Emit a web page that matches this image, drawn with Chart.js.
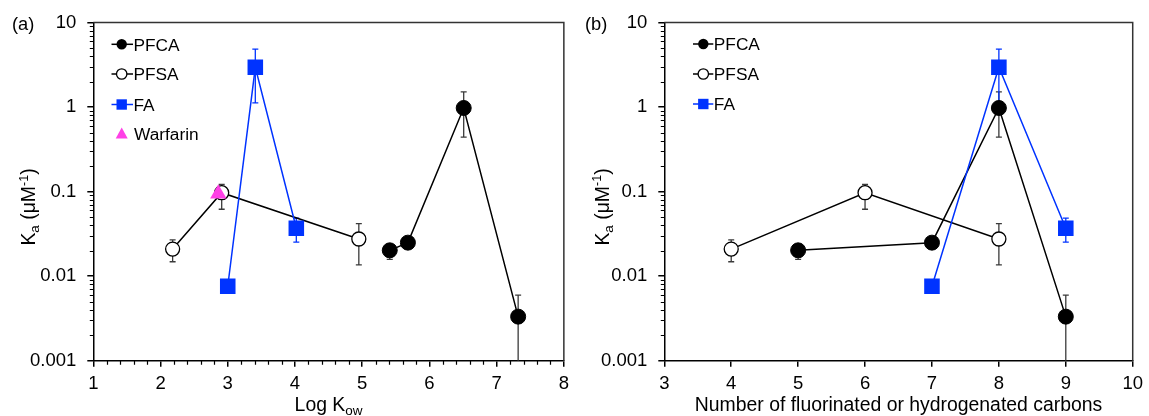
<!DOCTYPE html>
<html><head><meta charset="utf-8">
<script src="https://cdn.jsdelivr.net/npm/chart.js@4.4.1/dist/chart.umd.min.js"></script>
<style>
html,body{margin:0;padding:0;background:#fff;}
#wrap{position:relative;width:1149px;height:416px;overflow:hidden;}
canvas{position:absolute;top:0;}
</style></head><body>
<div id="wrap"><canvas id="ca" width="575" height="416" style="left:0"></canvas><canvas id="cb" width="574" height="416" style="left:575px"></canvas></div>
<script>
// ---------- data ----------
const seriesNames = ['PFCA', 'PFSA', 'FA', 'Warfarin'];
const kowPFCA = [5.41, 5.68, 6.51, 7.32];
const kowPFSA = [2.18, 2.91, 4.95];
const kowFA = [3.00, 3.41, 4.02];
const kowWarfarin = [2.86];
const carbPFCA = [5, 7, 8, 9];
const carbPFSA = [4, 6, 8];
const carbFA = [7, 8, 9];
const kaPFCA = [0.0202, 0.0249, 0.975, 0.00332];
const kaPFCALow = [0.0158, 0.0228, 0.442, 0.001];
const kaPFCAHigh = [0.0232, 0.0272, 1.51, 0.00598];
const kaPFSA = [0.0209, 0.097, 0.0275];
const kaPFSALow = [0.0148, 0.0618, 0.0136];
const kaPFSAHigh = [0.0268, 0.122, 0.0418];
const kaFA = [0.0076, 2.95, 0.0368];
const kaFALow = [0.0070, 1.12, 0.0252];
const kaFAHigh = [0.0083, 4.85, 0.0485];
const kaWarfarin = [0.094];
const kaWarfarinLow = [0.086];
const kaWarfarinHigh = [0.104];
const yTickValues = [0.001, 0.01, 0.1, 1, 10];
const yTickLabels = ['0.001', '0.01', '0.1', '1', '10'];
const xTicksA = [1, 2, 3, 4, 5, 6, 7, 8];
const xTicksB = [3, 4, 5, 6, 7, 8, 9, 10];

// ---------- style ----------
const FONT = "'Liberation Sans', Arial, Helvetica, sans-serif";
Chart.defaults.font.family = FONT;
Chart.defaults.font.size = 18.5;
Chart.defaults.color = '#000';
const BLUE = '#0033FF', PINK = '#FF40E6', ERR = '#3a3a3a';
const TITLE = 19.4, SUB = 13.5, LEG = 17.3, PANEL = 18.3;

function pts(xs, ys) { return xs.map((x, i) => ({ x: x, y: ys[i] })); }

function marker(ctx, kind, x, y, r, color) {
  ctx.beginPath();
  if (kind === 'fcircle' || kind === 'ocircle') ctx.arc(x, y, r, 0, 2 * Math.PI);
  else if (kind === 'square') ctx.rect(x - r, y - r, 2 * r, 2 * r);
  else if (kind === 'triangle') { ctx.moveTo(x, y - r * 1.1); ctx.lineTo(x + r, y + r * 0.75); ctx.lineTo(x - r, y + r * 0.75); ctx.closePath(); }
  if (kind === 'ocircle') { ctx.fillStyle = '#fff'; ctx.fill(); ctx.lineWidth = 1.3; ctx.strokeStyle = '#000'; ctx.stroke(); }
  else { ctx.fillStyle = color; ctx.fill(); }
}

function rich(ctx, parts) {
  let w = 0;
  parts.forEach(p => { ctx.font = p.s + 'px ' + FONT; p.w = ctx.measureText(p.t).width; w += p.w; });
  return w;
}
function drawRich(ctx, parts, cx, by) {
  const w = rich(ctx, parts);
  let x = cx - w / 2;
  ctx.fillStyle = '#000'; ctx.textAlign = 'left'; ctx.textBaseline = 'alphabetic';
  parts.forEach(p => { ctx.font = p.s + 'px ' + FONT; ctx.fillText(p.t, x, by + p.dy); x += p.w; });
}

function makePanel(cfg) {
  return {
    id: 'panel',
    beforeDatasetsDraw(chart) {
      const ctx = chart.ctx, a = chart.chartArea, xs = chart.scales.x, ys = chart.scales.y;
      ctx.save();
      ctx.beginPath(); ctx.rect(a.left, a.top, a.right - a.left, a.bottom - a.top + 1); ctx.clip();
      chart.data.datasets.forEach(ds => {
        if (!ds.errLow) return;
        ctx.strokeStyle = ds.errColor; ctx.lineWidth = 1.3;
        ds.data.forEach((p, i) => {
          const px = xs.getPixelForValue(p.x);
          const yl = ys.getPixelForValue(ds.errLow[i]), yh = ys.getPixelForValue(ds.errHigh[i]);
          ctx.beginPath();
          ctx.moveTo(px, yl); ctx.lineTo(px, yh);
          ctx.moveTo(px - 3, yh); ctx.lineTo(px + 3, yh);
          if (yl < a.bottom - 1) { ctx.moveTo(px - 3, yl); ctx.lineTo(px + 3, yl); }
          ctx.stroke();
        });
      });
      ctx.restore();
    },
    afterDraw(chart) {
      const ctx = chart.ctx, a = chart.chartArea, xs = chart.scales.x, ys = chart.scales.y;
      ctx.save();
      // frame top/right
      ctx.strokeStyle = '#333'; ctx.lineWidth = 1.5;
      ctx.beginPath(); ctx.moveTo(a.left, a.top); ctx.lineTo(a.right, a.top); ctx.lineTo(a.right, a.bottom); ctx.stroke();
      // minor ticks
      ctx.strokeStyle = '#000'; ctx.lineWidth = 1.2;
      ctx.beginPath();
      for (let d = 0; d < yTickValues.length - 1; d++) {
        for (let k = 2; k <= 9; k++) {
          const py = Math.round(ys.getPixelForValue(yTickValues[d] * k)) + 0.5;
          ctx.moveTo(a.left - 3.5, py); ctx.lineTo(a.left, py);
        }
      }
      if (cfg.xMinor) {
        const t = cfg.xTicks;
        for (let i = 0; i < t.length - 1; i++) {
          for (let k = 1; k < 5; k++) {
            const px = Math.round(xs.getPixelForValue(t[i] + k * (t[i + 1] - t[i]) / 5)) + 0.5;
            ctx.moveTo(px, a.bottom); ctx.lineTo(px, a.bottom + 4);
          }
        }
      }
      ctx.stroke();
      // legend
      cfg.legend.forEach((it, i) => {
        const y = cfg.legY[i];
        if (it.line) {
          ctx.strokeStyle = it.color; ctx.lineWidth = 1.5;
          ctx.beginPath(); ctx.moveTo(cfg.legX0, y); ctx.lineTo(cfg.legX1, y); ctx.stroke();
        }
        marker(ctx, it.kind, cfg.legXm, y, it.kind === 'triangle' ? 6 : 5.2, it.color);
        ctx.fillStyle = '#000'; ctx.font = LEG + 'px ' + FONT; ctx.textAlign = 'left'; ctx.textBaseline = 'alphabetic';
        ctx.fillText(it.label, it.line ? cfg.legX1 + 0.5 : cfg.legX1 + 1, y + 6.2);
      });
      // x title
      drawRich(ctx, cfg.xTitle, (a.left + a.right) / 2, 411);
      // y title
      ctx.save();
      ctx.translate(cfg.yTitleX, cfg.yTitleCY);
      ctx.rotate(-Math.PI / 2);
      drawRich(ctx, [{ t: 'K', s: TITLE, dy: 0 }, { t: 'a', s: SUB, dy: 4 }, { t: ' (\u03bcM', s: TITLE, dy: 0 }, { t: '-1', s: 12.5, dy: -7.5 }, { t: ')', s: TITLE, dy: 0 }], 0, 0);
      ctx.restore();
      // panel label
      ctx.fillStyle = '#000'; ctx.font = PANEL + 'px ' + FONT; ctx.textAlign = 'left'; ctx.textBaseline = 'alphabetic';
      ctx.fillText(cfg.panelLabel, cfg.panelX, 30);
      ctx.restore();
    }
  };
}

function makeChart(id, xMin, xMax, xTicks, yWidth, padRight, datasets, cfg) {
  const axisGrid = { display: true, drawOnChartArea: false, drawTicks: true, tickLength: 6, color: '#000', lineWidth: 1.5 };
  const axisBorder = { display: true, color: '#000', width: 1.5 };
  return new Chart(document.getElementById(id), {
    type: 'scatter',
    data: { datasets: datasets },
    options: {
      responsive: false, animation: false, events: [],
      layout: { padding: { left: 0, right: padRight, top: 22.5, bottom: 0 } },
      plugins: { legend: { display: false }, tooltip: { enabled: false } },
      scales: {
        x: {
          type: 'linear', min: xMin, max: xMax,
          afterBuildTicks: s => { s.ticks = xTicks.map(v => ({ value: v })); },
          afterFit: s => { s.height = 55.3; },
          ticks: { callback: v => String(v), padding: 6, maxRotation: 0, autoSkip: false },
          grid: axisGrid, border: axisBorder
        },
        y: {
          type: 'logarithmic', min: 0.001, max: 10,
          afterBuildTicks: s => { s.ticks = yTickValues.map(v => ({ value: v })); },
          afterFit: s => { s.width = yWidth; },
          ticks: { callback: (v, i) => yTickLabels[i], padding: 11, autoSkip: false },
          grid: axisGrid, border: axisBorder
        }
      }
    },
    plugins: [makePanel(cfg)]
  });
}

function ds(label, data, low, high, opts) {
  return Object.assign({
    label: label, data: data, showLine: true, borderWidth: 1.5, tension: 0,
    errLow: low, errHigh: high
  }, opts);
}
function pfca(xs) {
  return ds(seriesNames[0], pts(xs, kaPFCA), kaPFCALow, kaPFCAHigh, {
    borderColor: '#000', pointStyle: 'circle', pointRadius: 7.5, pointHoverRadius: 7.5,
    pointBackgroundColor: '#000', pointBorderColor: '#000', pointBorderWidth: 1, errColor: ERR, order: 3 });
}
function pfsa(xs) {
  return ds(seriesNames[1], pts(xs, kaPFSA), kaPFSALow, kaPFSAHigh, {
    borderColor: '#000', pointStyle: 'circle', pointRadius: 7, pointHoverRadius: 7,
    pointBackgroundColor: '#fff', pointBorderColor: '#000', pointBorderWidth: 1.3, errColor: ERR, order: 4 });
}
function fa(xs) {
  return ds(seriesNames[2], pts(xs, kaFA), kaFALow, kaFAHigh, {
    borderColor: BLUE, pointStyle: 'rect', pointRadius: 11, pointHoverRadius: 11,
    pointBackgroundColor: BLUE, pointBorderColor: BLUE, pointBorderWidth: 0, errColor: BLUE, order: 2 });
}

const legendA = [
  { label: seriesNames[0], kind: 'fcircle', color: '#000', line: true },
  { label: seriesNames[1], kind: 'ocircle', color: '#000', line: true },
  { label: seriesNames[2], kind: 'square', color: BLUE, line: true },
  { label: seriesNames[3], kind: 'triangle', color: PINK, line: false }
];

makeChart('ca', 1, 8, xTicksA, 93.3, 8.3, [
  pfca(kowPFCA), pfsa(kowPFSA), fa(kowFA),
  ds(seriesNames[3], pts(kowWarfarin, kaWarfarin), kaWarfarinLow, kaWarfarinHigh, {
    showLine: false, borderColor: PINK, pointStyle: 'triangle', pointRadius: 9.5, pointHoverRadius: 9.5,
    pointBackgroundColor: PINK, pointBorderColor: PINK, pointBorderWidth: 0, errColor: ERR, order: 1 })
], {
  xMinor: true, xTicks: xTicksA, legend: legendA,
  legX0: 111.5, legX1: 133, legXm: 121.7, legY: [44.3, 74, 104.5, 134],
  xTitle: [{ t: 'Log K', s: TITLE, dy: 0 }, { t: 'ow', s: SUB, dy: 4 }],
  yTitleX: 35, yTitleCY: 207, panelLabel: '(a)', panelX: 12
});

makeChart('cb', 3, 10, xTicksB, 89.3, 11.7, [
  pfca(carbPFCA), pfsa(carbPFSA), fa(carbFA)
], {
  xMinor: false, xTicks: xTicksB, legend: legendA.slice(0, 3),
  legX0: 118, legX1: 138.3, legXm: 128.3, legY: [44, 74, 104],
  xTitle: [{ t: 'Number of fluorinated or hydrogenated carbons', s: TITLE, dy: 0 }],
  yTitleX: 33.5, yTitleCY: 207, panelLabel: '(b)', panelX: 10
});
</script>
</body></html>
